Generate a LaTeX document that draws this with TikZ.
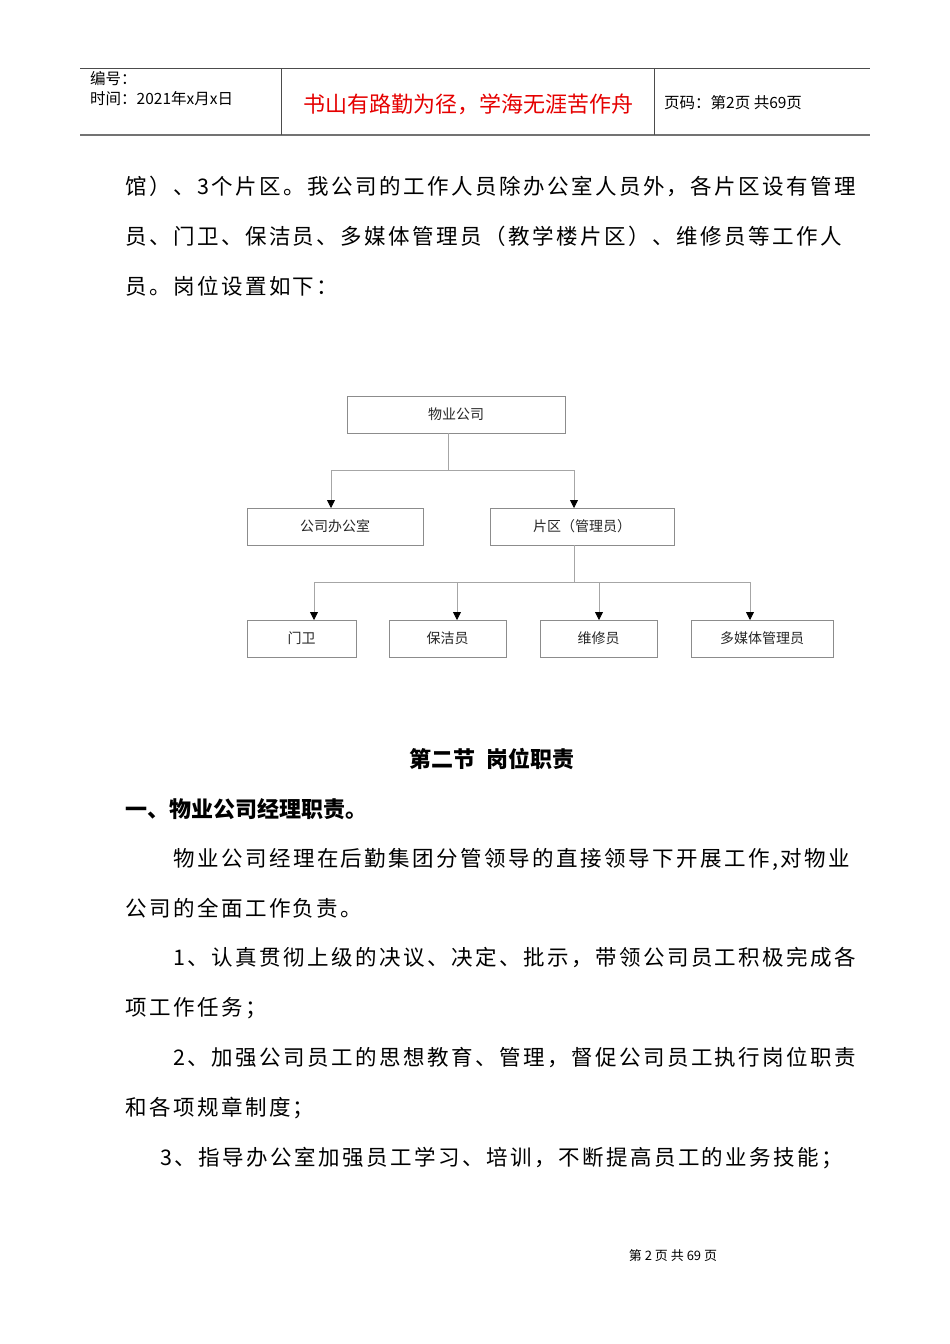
\documentclass[tikz,border=0pt]{standalone}
\usepackage{fontspec}
\setmainfont{Noto Sans CJK SC}
\newfontfamily\cjk{Noto Sans CJK SC}
\newfontfamily\cjkbody[LetterSpace=11.5]{Noto Sans CJK SC}
\usetikzlibrary{arrows.meta}
\begin{document}
\begin{tikzpicture}[x=1pt,y=-1pt,
  box/.style={draw=black!45,line width=0.8pt,minimum height=37pt,inner sep=0pt,font=\cjk\fontsize{14}{14}\selectfont,text=black!85},
  conn/.style={draw=black!35,line width=0.8pt},
  arr/.style={conn,-{Triangle[length=8pt,width=8pt,fill=black,color=black]}},
  bodyt/.style={anchor=west,inner sep=0pt,font=\cjkbody\fontsize{21.5}{21.5}\selectfont},
  hdr/.style={anchor=west,inner sep=0pt,font=\cjk\fontsize{15.5}{15.5}\selectfont}]
\useasboundingbox (0,0) rectangle (950,1344);
% header
\draw[black!70,line width=0.8pt] (80,68) -- (870,68);
\draw[black!55,line width=1.6pt] (80,135) -- (870,135);
\draw[black!70,line width=0.8pt] (281,68) -- (281,135) (654,68) -- (654,135);
\node[hdr] (h1) at (90,79) {编号：};
\node[hdr] (h2) at (90,99) {时间：2021年x月x日};
\node[inner sep=0pt,text=red!90!black,font=\cjk\fontsize{22}{22}\selectfont] (h3) at (468,104) {书山有路勤为径，学海无涯苦作舟};
\node[hdr] (h4) at (664,103) {页码：第2页\ 共69页};
% intro text
\node[bodyt] (t1) at (125,186) {馆）、3个片区。我公司的工作人员除办公室人员外，各片区设有管理};
\node[bodyt] (t2) at (125,236) {员、门卫、保洁员、多媒体管理员（教学楼片区）、维修员等工作人};
\node[bodyt] (t3) at (125,286) {员。岗位设置如下：};
% chart
\node[box,minimum width=218pt] (a) at (456,414.5) {物业公司};
\node[box,minimum width=176pt] (b) at (335,526.5) {公司办公室};
\node[box,minimum width=184pt] (c) at (582,526.5) {片区（管理员）};
\node[box,minimum width=109pt] (d1) at (301.5,638.5) {门卫};
\node[box,minimum width=117pt] (d2) at (447.5,638.5) {保洁员};
\node[box,minimum width=117pt] (d3) at (598.5,638.5) {维修员};
\node[box,minimum width=142pt] (d4) at (762,638.5) {多媒体管理员};
\coordinate (j1) at (448,470);
\coordinate (j2) at (574,582);
\draw[conn] (448,433) -- (j1);
\draw[conn] (331,470) -- (574,470);
\draw[arr] (331,470) -- (331,508);
\draw[arr] (574,470) -- (574,508);
\draw[conn] (574,545) -- (j2);
\draw[conn] (314,582) -- (750,582);
\foreach \x in {314,457,599,750} \draw[arr] (\x,582) -- (\x,620);
% section
\node[inner sep=0pt,font=\cjk\bfseries\fontsize{22}{22}\selectfont] (s1) at (492,759) {第二节\ \ 岗位职责};
\node[anchor=west,inner sep=0pt,font=\cjk\bfseries\fontsize{22}{22}\selectfont] (s2) at (125,809) {一、物业公司经理职责。};
\node[bodyt] (p1) at (173,859) {物业公司经理在后勤集团分管领导的直接领导下开展工作,对物业};
\node[bodyt] (p2) at (125,908) {公司的全面工作负责。};
\node[bodyt] (p3) at (173,958) {1、认真贯彻上级的决议、决定、批示，带领公司员工积极完成各};
\node[bodyt] (p4) at (125,1008) {项工作任务；};
\node[bodyt] (p5) at (173,1058) {2、加强公司员工的思想教育、管理，督促公司员工执行岗位职责};
\node[bodyt] (p6) at (125,1108) {和各项规章制度；};
\node[bodyt] (p7) at (160,1158) {3、指导办公室加强员工学习、培训，不断提高员工的业务技能；};
\node[inner sep=0pt,font=\cjk\fontsize{13}{13}\selectfont] (f) at (673,1256) {第 2 页 共 69 页};
\end{tikzpicture}
\end{document}
